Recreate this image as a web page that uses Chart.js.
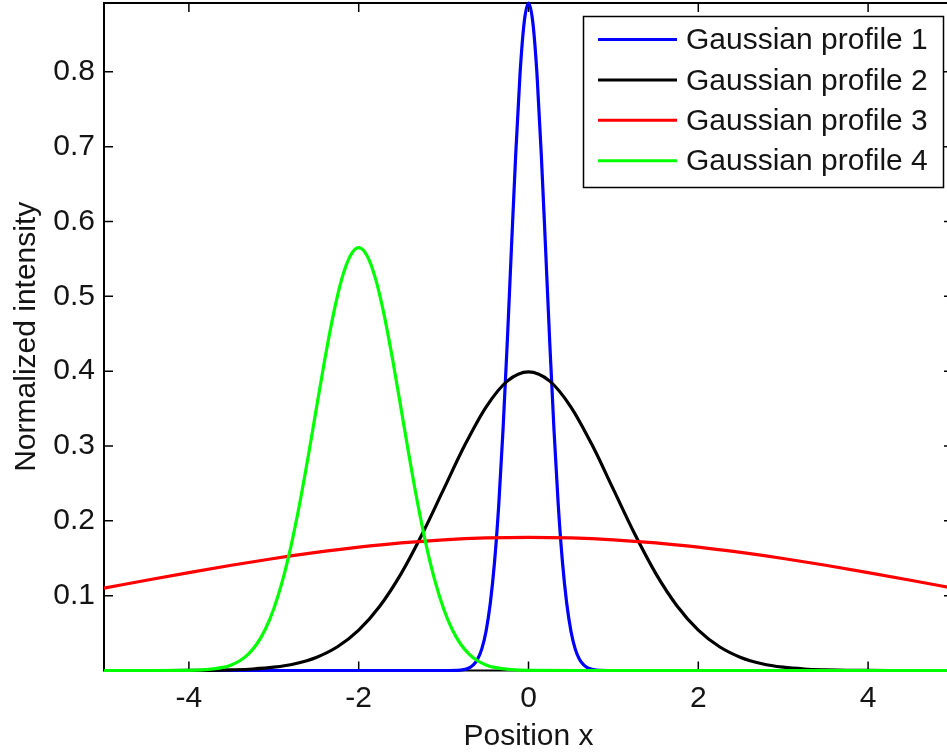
<!DOCTYPE html>
<html><head><meta charset="utf-8">
<script src="https://cdn.jsdelivr.net/npm/chart.js@4.4.1/dist/chart.umd.min.js"></script>
<style>html,body{margin:0;padding:0;overflow:hidden;background:#fff;width:947px;height:753px}canvas{display:block}</style>
</head><body>
<canvas id="c" width="960" height="753"></canvas>
<script>
// ---- data ----
const xTickValues = [-4, -2, 0, 2, 4];
const yTickValues = [0.1, 0.2, 0.3, 0.4, 0.5, 0.6, 0.7, 0.8];
const seriesLabels = ['Gaussian profile 1', 'Gaussian profile 2', 'Gaussian profile 3', 'Gaussian profile 4'];
const seriesColors = ['#0000ff', '#000000', '#ff0000', '#00ff00'];

const profile1X = [-5, -3, -1.5, -1, -0.8, -0.7, -0.65, -0.6, -0.55, -0.5, -0.45, -0.4, -0.35, -0.3, -0.25, -0.2, -0.15, -0.1, -0.05, 0,
  0.05, 0.1, 0.15, 0.2, 0.25, 0.3, 0.35, 0.4, 0.45, 0.5, 0.55, 0.6, 0.65, 0.7, 0.8, 1, 1.5, 3, 5];
const profile1Y = [0, 0, 0, 0, 0.0006, 0.0034, 0.0074, 0.0150, 0.0289, 0.0525, 0.0898, 0.145, 0.222, 0.322, 0.439, 0.567, 0.691, 0.797, 0.867, 0.892,
  0.867, 0.797, 0.691, 0.567, 0.439, 0.322, 0.222, 0.145, 0.0898, 0.0525, 0.0289, 0.0150, 0.0074, 0.0034, 0.0006, 0, 0, 0, 0];

const profile2X = [-5, -4.75, -4.5, -4.25, -4, -3.75, -3.5, -3.25, -3, -2.75, -2.5, -2.25, -2, -1.75, -1.5, -1.25, -1, -0.75, -0.5, -0.25, 0,
  0.25, 0.5, 0.75, 1, 1.25, 1.5, 1.75, 2, 2.25, 2.5, 2.75, 3, 3.25, 3.5, 3.75, 4, 4.25, 4.5, 4.75, 5];
const profile2Y = [0, 0, 0, 0, 0.0001, 0.0003, 0.0009, 0.0020, 0.0044, 0.0091, 0.0175, 0.0317, 0.0540, 0.0863, 0.1295, 0.1827, 0.2420, 0.3012, 0.3521, 0.3867, 0.399,
  0.3867, 0.3521, 0.3012, 0.2420, 0.1827, 0.1295, 0.0863, 0.0540, 0.0317, 0.0175, 0.0091, 0.0044, 0.0020, 0.0009, 0.0003, 0.0001, 0, 0, 0, 0];

const profile3X = [-5, -4.5, -4, -3.5, -3, -2.5, -2, -1.5, -1, -0.5, 0, 0.5, 1, 1.5, 2, 2.5, 3, 3.5, 4, 4.5, 5];
const profile3Y = [0.1101, 0.1206, 0.1308, 0.1406, 0.1497, 0.1578, 0.1648, 0.1705, 0.1746, 0.1771, 0.178,
  0.1771, 0.1746, 0.1705, 0.1648, 0.1578, 0.1497, 0.1406, 0.1308, 0.1206, 0.1101];

const profile4X = [-5, -4.5, -4, -3.8, -3.6, -3.5, -3.4, -3.3, -3.2, -3.1, -3.0, -2.9, -2.8, -2.7, -2.6, -2.5, -2.4, -2.3, -2.2, -2.1, -2.0,
  -1.9, -1.8, -1.7, -1.6, -1.5, -1.4, -1.3, -1.2, -1.1, -1.0, -0.9, -0.8, -0.7, -0.6, -0.5, -0.4, -0.2, 0, 1, 2, 3, 4, 5];
const profile4Y = [0, 0, 0.0002, 0.0011, 0.0041, 0.0075, 0.0130, 0.0219, 0.0354, 0.0551, 0.0826, 0.1190, 0.1650, 0.2202, 0.2827, 0.3493, 0.4153, 0.475, 0.523, 0.554, 0.565,
  0.554, 0.523, 0.475, 0.4153, 0.3493, 0.2827, 0.2202, 0.1650, 0.1190, 0.0826, 0.0551, 0.0354, 0.0219, 0.0130, 0.0075, 0.0041, 0.0011, 0.0002, 0, 0, 0, 0, 0];

const xTitle = 'Position x';
const yTitle = 'Normalized intensity';
const xMin = -5, xMax = 5, yMin = 0, yMax = 0.892;

// ---- chart ----
const FONT = "'Liberation Sans', Arial, sans-serif";
const TEXT = '#141414';
const xs = [profile1X, profile2X, profile3X, profile4X];
const ys = [profile1Y, profile2Y, profile3Y, profile4Y];
const drawOrder = [4, 3, 2, 1];

const datasets = seriesLabels.map((label, k) => ({
  label,
  data: xs[k].map((x, i) => ({x, y: ys[k][i]})),
  borderColor: seriesColors[k],
  backgroundColor: seriesColors[k],
  borderWidth: 3.2,
  pointRadius: 0,
  fill: false,
  cubicInterpolationMode: 'monotone',
  order: drawOrder[k],
  clip: 6
}));

const boxPlugin = {
  id: 'boxPlugin',
  beforeDatasetsDraw(chart) {
    const {ctx, chartArea: a, scales: {x, y}} = chart;
    ctx.save();
    ctx.strokeStyle = '#000';
    ctx.lineWidth = 2;
    ctx.strokeRect(a.left, a.top, a.right - a.left, a.bottom - a.top);
    ctx.lineWidth = 1.5;
    const tl = 9;
    ctx.beginPath();
    xTickValues.forEach(v => {
      const px = x.getPixelForValue(v);
      ctx.moveTo(px, a.bottom); ctx.lineTo(px, a.bottom - tl);
      ctx.moveTo(px, a.top); ctx.lineTo(px, a.top + tl);
    });
    yTickValues.forEach(v => {
      const py = y.getPixelForValue(v);
      ctx.moveTo(a.left, py); ctx.lineTo(a.left + tl, py);
      ctx.moveTo(a.right, py); ctx.lineTo(a.right - tl, py);
    });
    ctx.stroke();
    ctx.restore();
  },
  afterDraw(chart) {
    const {ctx} = chart;
    ctx.save();
    const bx = 583.5, by = 16.5, bw = 360, bh = 171;
    ctx.fillStyle = '#fff';
    ctx.fillRect(bx, by, bw, bh);
    ctx.strokeStyle = '#000';
    ctx.lineWidth = 1.5;
    ctx.strokeRect(bx, by, bw, bh);
    ctx.font = '30px ' + FONT;
    ctx.textBaseline = 'middle';
    ctx.textAlign = 'left';
    chart.data.datasets.forEach((ds, i) => {
      const ly = 39.5 + i * 40.4;
      ctx.strokeStyle = ds.borderColor;
      ctx.lineWidth = 3;
      ctx.beginPath();
      ctx.moveTo(598, ly); ctx.lineTo(677, ly);
      ctx.stroke();
      ctx.fillStyle = TEXT;
      ctx.fillText(ds.label, 686, ly + 1.5);
    });
    ctx.restore();
  }
};

new Chart(document.getElementById('c'), {
  type: 'line',
  data: {datasets},
  plugins: [boxPlugin],
  options: {
    responsive: false,
    animation: false,
    devicePixelRatio: 1,
    layout: {padding: {top: 3, right: 7, left: 0, bottom: 0}},
    plugins: {legend: {display: false}, tooltip: {enabled: false}},
    scales: {
      x: {
        type: 'linear', min: xMin, max: xMax,
        grid: {display: false, drawTicks: false},
        border: {display: false},
        afterBuildTicks: s => { s.ticks = xTickValues.map(v => ({value: v})); },
        afterFit: s => { s.height = 82.5; s.paddingLeft = 0; s.paddingRight = 0; },
        ticks: {color: TEXT, font: {family: FONT, size: 30, lineHeight: 1.2}, padding: 10, maxRotation: 0, callback: v => String(v)},
        title: {display: true, text: xTitle, color: TEXT, font: {family: FONT, size: 30, lineHeight: 1}, padding: {top: 0, bottom: 1}}
      },
      y: {
        type: 'linear', min: yMin, max: yMax,
        grid: {display: false, drawTicks: false},
        border: {display: false},
        afterBuildTicks: s => { s.ticks = yTickValues.map(v => ({value: v})); },
        afterFit: s => { s.width = 104; s.paddingTop = 0; s.paddingBottom = 0; },
        ticks: {color: TEXT, font: {family: FONT, size: 30}, padding: 9, callback: v => String(v)},
        title: {display: true, text: yTitle, color: TEXT, font: {family: FONT, size: 30, lineHeight: 1}, padding: {top: 12, bottom: 0}}
      }
    }
  }
});
</script>
</body></html>
